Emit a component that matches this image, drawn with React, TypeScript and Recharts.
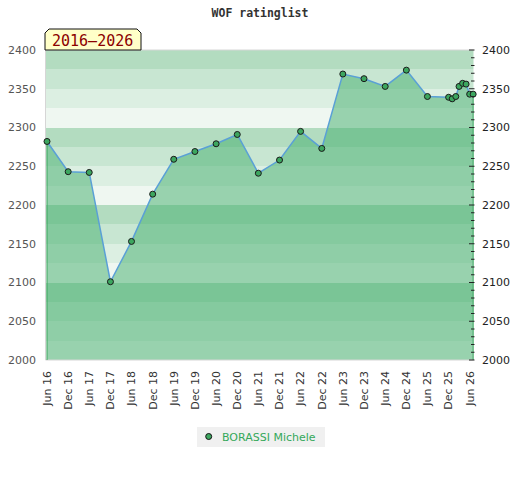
import { ComposedChart, Area, Line, XAxis, YAxis, CartesianGrid, ReferenceLine } from 'recharts';

// rating list dates and values
const ratingDates = [
    '2016-06-01', '2016-12-01', '2017-06-01', '2017-12-01', '2018-06-01', '2018-12-01',
    '2019-06-01', '2019-12-01', '2020-06-01', '2020-12-01', '2021-06-01', '2021-12-01',
    '2022-06-01', '2022-12-01', '2023-06-01', '2023-12-01', '2024-06-01', '2024-12-01',
    '2025-06-01', '2025-12-01', '2026-01-01', '2026-02-01', '2026-03-01', '2026-04-01',
    '2026-05-01', '2026-06-01', '2026-07-01',
];
const ratings = [
    2282, 2243, 2242, 2101, 2153, 2214,
    2259, 2269, 2279, 2291, 2241, 2258,
    2295, 2273, 2369, 2363, 2353, 2374,
    2340, 2339, 2337, 2340, 2353, 2357,
    2356, 2343, 2343,
];

const xTickMonths = [
    '2016-06', '2016-12', '2017-06', '2017-12', '2018-06', '2018-12', '2019-06',
    '2019-12', '2020-06', '2020-12', '2021-06', '2021-12', '2022-06', '2022-12',
    '2023-06', '2023-12', '2024-06', '2024-12', '2025-06', '2025-12', '2026-06',
];
const monthNames = ['Jan', 'Feb', 'Mar', 'Apr', 'May', 'Jun', 'Jul', 'Aug', 'Sep', 'Oct', 'Nov', 'Dec'];
const yLabels = [2000, 2050, 2100, 2150, 2200, 2250, 2300, 2350, 2400];
const yMinorTicks = Array.from({ length: 41 }, (_, i) => 2000 + i * 10);
const bandEdges = Array.from({ length: 17 }, (_, i) => 2000 + i * 25);
const bandColors = ['#b3dcc0', '#c8e6d2', '#dcefe2', '#eff7f1'];

const xDomain = [Date.parse('2016-05-19'), Date.parse('2026-07-04')];
const yDomain = [2000, 2400];

const data = ratingDates.map((d, i) => ({ t: Date.parse(d), rating: ratings[i] }));
const first = data[0];
const last = data[data.length - 1];

const font = 'DejaVu Sans, sans-serif';

const fmtMonth = (v: number) => {
    const d = new Date(v);
    return monthNames[d.getUTCMonth()] + ' ' + String(d.getUTCFullYear()).slice(2);
};

const XTick = (props: any) => {
    const { x, y, payload } = props;
    return (
        <text transform={`translate(${x},${y + 11}) rotate(-90)`} textAnchor="end" dy="0.35em" fontSize={11} fontFamily={font} fill="#333">
            {fmtMonth(payload.value)}
        </text>
    );
};

const LeftTick = (props: any) => {
    const { x, y, payload } = props;
    return (
        <text x={x - 9.5} y={y} dy="0.355em" textAnchor="end" fontSize={11} fontFamily={font} fill="#555">
            {payload.value}
        </text>
    );
};

const RightTick = (props: any) => {
    const { x, y, payload } = props;
    const major = payload.value % 50 === 0;
    return (
        <g>
            <line x1={x - (major ? 4.5 : 2.5)} x2={x + 1} y1={y} y2={y} stroke="#222" strokeWidth={1} />
            {major && (
                <text x={x + 8.5} y={y} dy="0.355em" textAnchor="start" fontSize={11} fontFamily={font} fill="#222">
                    {payload.value}
                </text>
            )}
        </g>
    );
};

export default function App() {
    return (
        <div style={{ position: 'absolute', left: 0, top: 0, width: 520, height: 480, background: '#fff' }}>
            <ComposedChart width={520} height={480} data={data} margin={{ top: 50, right: 0, left: 0, bottom: 0 }}>
                <CartesianGrid
                    yAxisId="left"
                    vertical={false}
                    horizontalValues={bandEdges}
                    horizontalFill={bandColors}
                    stroke="transparent"
                />
                <XAxis
                    dataKey="t"
                    type="number"
                    domain={xDomain}
                    ticks={xTickMonths.map((m) => Date.parse(m + '-01'))}
                    interval={0}
                    height={120}
                    tickSize={0}
                    tickMargin={0}
                    axisLine={false}
                    tickLine={false}
                    tick={XTick}
                />
                <YAxis
                    yAxisId="left"
                    domain={yDomain}
                    ticks={yLabels}
                    interval={0}
                    width={45.5}
                    tickSize={0}
                    tickMargin={0}
                    axisLine={false}
                    tickLine={false}
                    tick={LeftTick}
                />
                <YAxis
                    yAxisId="right"
                    orientation="right"
                    type="number"
                    domain={yDomain}
                    allowDataOverflow
                    ticks={yMinorTicks}
                    interval={0}
                    width={46.5}
                    tickSize={0}
                    tickMargin={0}
                    axisLine={false}
                    tickLine={false}
                    tick={RightTick}
                />
                <ReferenceLine yAxisId="left" y={2400} stroke="#d6d6d6" />
                <ReferenceLine yAxisId="left" y={2000} stroke="#d6d6d6" />
                <ReferenceLine yAxisId="left" x={xDomain[0]} stroke="#d6d6d6" />
                <Area
                    yAxisId="left"
                    type="linear"
                    dataKey="rating"
                    stroke="#5aa0d6"
                    strokeWidth={1.5}
                    fill="#41ae6c"
                    fillOpacity={0.5}
                    dot={{ r: 3, fill: '#3ca65f', stroke: '#1a1a1a', strokeWidth: 1, fillOpacity: 1 }}
                    activeDot={false}
                    isAnimationActive={false}
                />
                {/* hidden series so the right axis gets its scale */}
                <Line
                    yAxisId="right"
                    type="linear"
                    dataKey="rating"
                    stroke="none"
                    dot={false}
                    activeDot={false}
                    legendType="none"
                    isAnimationActive={false}
                />
                <ReferenceLine
                    yAxisId="left"
                    segment={[{ x: first.t, y: 2000 }, { x: first.t, y: first.rating }]}
                    stroke="#3ca65f"
                />
                <ReferenceLine
                    yAxisId="left"
                    segment={[{ x: last.t, y: 2000 }, { x: last.t, y: last.rating }]}
                    stroke="#3ca65f"
                />
            </ComposedChart>
            <svg width={520} height={480} style={{ position: 'absolute', left: 0, top: 0, pointerEvents: 'none' }}>
                <text x={260} y={17} textAnchor="middle" fontSize={11.5} fontWeight="bold" fontFamily="DejaVu Sans Mono, monospace" fill="#333">
                    WOF ratinglist
                </text>
                <polygon points="45,50 45,33 49,29 137,29 141,33 141,50" fill="#ffffc8" stroke="#111" strokeWidth={1} />
                <text x={52} y={46} fontSize={15} fontFamily="DejaVu Sans Mono, monospace" fill="#8b0000">
                    2016–2026
                </text>
                <rect x={197} y={427} width={128} height={20} fill="#f0f0f0" />
                <circle cx={208.7} cy={436.5} r={3} fill="#3ca65f" stroke="#111" strokeWidth={1} />
                <text x={222} y={440.5} fontSize={11} fontFamily={font} fill="#34a85a">
                    BORASSI Michele
                </text>
            </svg>
        </div>
    );
}
